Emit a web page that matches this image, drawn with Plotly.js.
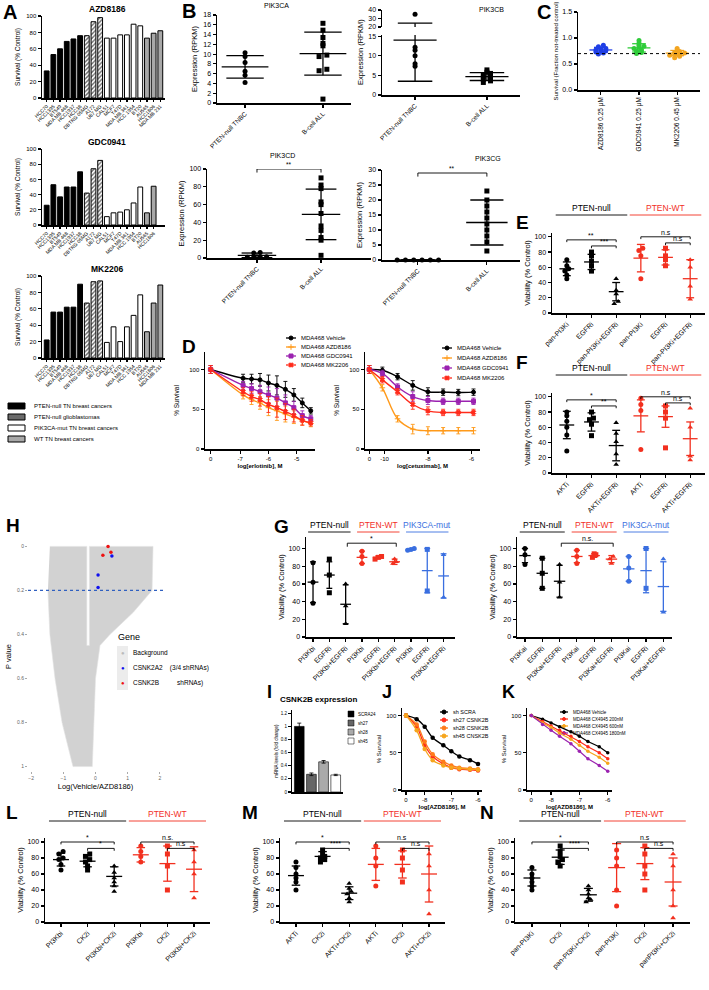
<!DOCTYPE html>
<html><head><meta charset="utf-8">
<script src="https://cdn.plot.ly/plotly-3.0.1.min.js"></script>
<style>body{margin:0;background:#fff}#c{width:709px;height:990px}</style></head>
<body><div id="c"></div>
<script>
// ---------------- DATA ----------------
const A_cells = ["HCC70","HCC1395","BT549","MDA MB 468","HCC1937","HCC38","DBTRG 05MG","A172","U87 MG","CAL51","MCF7","T47D","MDA MB 361","HCC 1954","BT20","AU565","HCC1806","MDA MB 231"];
const A_group = ["null","null","null","null","null","null","gbm","gbm","gbm","mut","mut","mut","mut","mut","mut","wt","wt","wt"];
const A_AZD8186 = [33,53,60,69,72,76,76,93,98,73,73,77,77,90,88,73,79,82];
const A_GDC0941 = [26,53,37,50,50,70,42,74,85,11,16,17,20,29,50,16,51];
const A_MK2206  = [22,56,56,62,62,90,67,93,94,19,38,20,38,52,77,32,67,89];
const A_legend = ["PTEN-null TN breast cancers","PTEN-null glioblastomas","PIK3CA-mut TN breast cancers","WT TN breast cancers"];
const B_cats = ["PTEN-null TNBC","B-cell ALL"];
const PIK3CA_null = [10.3,9.5,8.3,6.5,5.7,4.2];
const PIK3CA_ball = [16.3,14.9,13.4,12.2,11.7,9.8,9.5,6.9,6.6,0.8];
const PIK3CA_mean = [7.4,10.1], PIK3CA_sd = [2.3,4.4];
const PIK3CB_null = [35,12.2,11.4,10,8,7.3];
const PIK3CB_ball = [6.4,5.8,5.5,5.2,4.9,4.6,4.3,4.0,3.6,3.2];
const PIK3CB_mean = [14,4.7], PIK3CB_sd = [10.5,1.0];
const PIK3CD_null = [5.6,1.5,1,6.2,1,0.8];
const PIK3CD_ball = [90,82,78,63,60,50,36,31,23,20,3];
const PIK3CD_mean = [3,49], PIK3CD_sd = [2.6,28.4];
const PIK3CG_null = [0,0,0,0,0,0];
const PIK3CG_ball = [23,20,18,16,14,12,10,8,6,3];
const PIK3CG_mean = [0,12.5], PIK3CG_sd = [0,7.5];
const C_cats = ["AZD8186 0.25 μM","GDC0941 0.25 μM","MK2206 0.45 μM"];
const C_AZD = [0.86,0.83,0.80,0.79,0.77,0.76,0.75,0.73,0.71,0.69];
const C_GDC = [0.95,0.90,0.86,0.84,0.82,0.80,0.77,0.75,0.72,0.70];
const C_MK  = [0.80,0.76,0.74,0.72,0.71,0.70,0.69,0.67,0.65,0.62];
const C_mean = [0.77,0.81,0.71], C_sd = [0.05,0.08,0.05];
const C_threshold = 0.7;
const D1_conc = [-8.05,-6.9,-6.6,-6.3,-6.0,-5.7,-5.4,-5.1,-4.8,-4.5];
const D1_tickvals = [-8.05,-7,-6,-5], D1_ticktext = ["0","-7","-6","-5"];
const D_names = ["MDA468 Vehicle","MDA468 AZD8186","MDA468 GDC0941","MDA468 MK2206"];
const D1_vehicle = [100,89,88,87,83,80,75,68,58,48];
const D1_azd     = [100,68,62,58,52,48,44,40,36,32];
const D1_gdc     = [100,80,76,72,68,64,58,52,42,38];
const D1_mk      = [100,72,66,62,56,52,47,42,36,33];
const D1_err     = [5,5,6,8,10,12,10,8,6,4];
const D2_conc = [-10.7,-10.1,-9.4,-8.7,-8.0,-7.3,-6.6,-5.9];
const D2_tickvals = [-10.7,-10,-8,-6], D2_ticktext = ["0","-10","-8","-6"];
const D2_vehicle = [100,99,91,80,72,71.5,71,71.5];
const D2_azd     = [100,77,38,25,23,23,23,23];
const D2_gdc     = [100,95,78,66,61,60,60,60];
const D2_mk      = [100,87,72,56,48,46,46,46];
const D2_err     = [5,4,4,6,5,4,4,4];
const E_cats = ["pan-PI3Ki","EGFRi","pan-PI3Ki+EGFRi","pan-PI3Ki","EGFRi","pan-PI3Ki+EGFRi"];
const E_pts = [[70,62,58,55,50,45],[80,75,68,62,55],[45,30,25,15,12],[85,82,75,45],[85,75,70,62],[70,60,35,18]];
const E_mean = [58,67,28,72,73,45], E_sd = [9,10,12,18,10,25];
const F_cats = ["AKTi","EGFRi","AKTi+EGFRi","AKTi","EGFRi","AKTi+EGFRi"];
const F_pts = [[80,75,68,60,50,29],[80,72,70,64,49],[66,52,41,25,11],[98,90,82,31],[88,80,72,33],[85,60,22,17]];
const F_mean = [63,67,36,75,74,45], F_sd = [18,12,20,21,14,22];
const G1_cats = ["PI3Kbi","EGFRi","PI3Kbi+EGFRi","PI3Kbi","EGFRi","PI3Kbi+EGFRi","PI3Kbi","EGFRi","PI3Kbi+EGFRi"];
const G1_pts = [[84,62,38],[88,70,50],[60,35,15],[97,91,83],[91,90,88],[88,85,83],[100,99,98],[99,52],[93,45]];
const G1_mean = [62,70,37,90,90,85,99,75,69], G1_sd = [23,15,22,7,1.5,3,1,25,25];
const G2_cats = ["PI3Kai","EGFRi","PI3Kai+EGFRi","PI3Kai","EGFRi","PI3Kai+EGFRi","PI3Kai","EGFRi","PI3Kai+EGFRi"];
const G2_pts = [[100,93,82],[89,72,55],[82,62,45],[98,91,83],[94,93,90],[91,88,83],[91,78,63],[100,55],[88,28]];
const G2_mean = [92,72,63,91,92,88,77,75,57], G2_sd = [8,17,18,7,2,4,14,25,28];
const H_cloudX = [-1.42,-0.27,-0.27,-0.19,-0.19,1.79,1.76,1.17,0.45,0.14,0.0,-0.05,-0.1,-0.7,-1.04,-1.26,-1.42,-1.48];
const H_cloudY = [0,0,0.45,0.45,0,0,0.2,0.3,0.4,0.45,0.6,0.8,1.0,1.0,0.8,0.6,0.4,0.2];
const H_a2x = [0.51,0.08,0.08], H_a2y = [0.044,0.13,0.187];
const H_bx = [0.39,0.48,0.23], H_by = [0,0.027,0.04];
const H_cut = 0.2;
const I_cats = ["SCRA24","sh27","sh28","sh45"];
const I_vals = [1.0,0.27,0.46,0.26], I_err = [0.05,0.02,0.02,0.01];
const J_conc = [-8.7,-8.3,-8.0,-7.7,-7.3,-7.0,-6.7,-6.3,-6.0];
const J_names = ["sh SCRA","sh27 CSNK2B","sh28 CSNK2B","sh45 CNSK2B"];
const J_scra = [100,95,85,70,60,52,45,40,35];
const J_sh27 = [100,85,60,45,35,30,28,27,26];
const J_sh28 = [100,88,65,48,38,33,30,29,28];
const J_sh45 = [100,80,55,40,33,30,29,28,27];
const K_conc = [-8.7,-8.3,-8.0,-7.7,-7.3,-7.0,-6.7,-6.3,-6.0];
const K_names = ["MDA468 Vehicle","MDA468 CX4945 200nM","MDA468 CX4945 600nM","MDA468 CX4945 1800nM"];
const K_veh = [100,95,90,85,78,72,65,58,50];
const K_200 = [100,92,86,80,72,65,58,50,42];
const K_600 = [100,90,84,76,68,60,52,44,36];
const K_1800= [100,88,80,72,62,52,42,33,25];
const L_cats = ["PI3Kbi","CK2i","PI3Kbi+CK2i","PI3Kbi","CK2i","PI3Kbi+CK2i"];
const L_pts = [[88,85,80,78,72,65],[85,82,78,75,70,65],[70,62,55,50,45,38],[95,88,82,75],[95,85,70,40],[90,75,60,30]];
const L_mean = [78,76,57,84,73,66], L_sd = [8,7,12,9,22,28];
const M_cats = ["AKTi","CK2i","AKTi+CK2i","AKTi","CK2i","AKTi+CK2i"];
const M_pts = [[75,68,60,55,50,40],[90,85,82,80,78,75],[48,42,38,35,30,25],[95,80,70,45],[90,80,65,50],[85,70,40,10]];
const M_mean = [58,82,36,72,72,60], M_sd = [12,6,8,20,17,35];
const N_cats = ["pan-PI3Ki","CK2i","pan-PI3Ki+CK2i","pan-PI3Ki","CK2i","panPI3Ki+CK2i"];
const N_pts = [[68,60,55,50,45,40],[95,88,82,78,75,70],[45,40,35,30,28,25],[90,80,70,40,20],[95,85,70,60,40],[85,70,40,20,5]];
const N_mean = [55,81,34,68,73,50], N_sd = [10,9,8,30,20,30];

// ---------------- HELPERS ----------------
const W=709,H=990;
const FONT='Liberation Sans, Arial, sans-serif';
const BLACK='#000', RED='#f2301f', BLUE='#3a6fe0';
const traces=[];
const layout={width:W,height:H,margin:{l:0,r:0,t:0,b:0,pad:0},showlegend:false,
  paper_bgcolor:'#fff',plot_bgcolor:'rgba(0,0,0,0)',font:{family:FONT,size:7,color:'#000'},
  annotations:[],shapes:[]};
let nAx=0;
function tf(size,color){return {size,family:FONT,color:color||'#000'};}
function axes(box,xo,yo){
  nAx++; const s=nAx===1?'':String(nAx);
  const base={showline:true,linecolor:'#000',linewidth:1.5,ticks:'outside',ticklen:3,tickwidth:1.2,tickcolor:'#000',
    showgrid:false,zeroline:false,tickfont:tf(7),fixedrange:true};
  layout['xaxis'+s]=Object.assign({},base,{domain:[box[0]/W,box[2]/W],anchor:'y'+s},xo||{});
  layout['yaxis'+s]=Object.assign({},base,{domain:[1-box[3]/H,1-box[1]/H],anchor:'x'+s},yo||{});
  return {x:'x'+s,y:'y'+s,box};
}
function ann(px,py,text,o){
  layout.annotations.push(Object.assign({x:px/W,y:1-py/H,xref:'paper',yref:'paper',text,showarrow:false,
    font:tf(7),xanchor:'center',yanchor:'middle'},o||{}));
}
function letter(px,py,t,s){ann(px,py,'<b>'+t+'</b>',{font:tf(s||18),xanchor:'left'});}
function spreadX(xc,pts,w,tol){
  const idx=pts.map((v,i)=>i).sort((a,b)=>pts[a]-pts[b]);
  const xs=new Array(pts.length).fill(xc);
  let start=0;
  while(start<idx.length){
    let end=start+1;
    while(end<idx.length && pts[idx[end]]-pts[idx[start]]<tol) end++;
    const k=end-start;
    for(let j=0;j<k;j++) xs[idx[start+j]]=xc+(j-(k-1)/2)*w;
    start=end;
  }
  return xs;
}
function dotGroup(a,xc,pts,mean,sd,color,symbol,o){
  o=o||{};
  traces.push({type:'scatter',mode:'markers',x:spreadX(xc,pts,o.spread||0.12,o.tol||4),y:pts,xaxis:a.x,yaxis:a.y,
    marker:{color,symbol,size:o.size||5},cliponaxis:o.clip||false,hoverinfo:'skip'});
  const mw=o.mw||0.3,cw=o.cw||0.15;
  traces.push({type:'scatter',mode:'lines',x:[xc-mw,xc+mw,null,xc,xc,null,xc-cw,xc+cw,null,xc-cw,xc+cw],
    y:[mean,mean,null,mean-sd,mean+sd,null,mean-sd,mean-sd,null,mean+sd,mean+sd],xaxis:a.x,yaxis:a.y,
    line:{color,width:o.lw||1.3},hoverinfo:'skip',cliponaxis:o.clip||false});
}
function bracket(a,x0,x1,y,h,label,color,fs){
  color=color||'#000';
  layout.shapes.push({type:'path',xref:a.x,yref:a.y,path:`M${x0},${y-h} L${x0},${y} L${x1},${y} L${x1},${y-h}`,line:{color,width:0.9}});
  layout.annotations.push({x:(x0+x1)/2,y:y,xref:a.x,yref:a.y,text:label,showarrow:false,yanchor:'bottom',
    font:tf(fs||7,color),yshift:-1});
}
function header(a,x0,x1,py,text,color,size){
  layout.annotations.push({x:(x0+x1)/2,y:1-py/H,xref:a.x,yref:'paper',text,showarrow:false,yanchor:'bottom',
    font:tf(size||8,color),yshift:-1});
  layout.shapes.push({type:'line',xref:a.x,yref:'paper',x0,x1,y0:1-(py+1)/H,y1:1-(py+1)/H,line:{color,width:0.9}});
}
let OV=null;
function overlay(){ if(!OV){OV=axes([0,0,W,H],{range:[0,W],visible:false},{range:[H,0],visible:false});} return OV; }
function lineLegend(px,py,dy,items,len,fs){
  const o=overlay();
  items.forEach((it,i)=>{
    const y=py+i*dy;
    traces.push({type:'scatter',mode:'lines',x:[px,px+len],y:[y,y],xaxis:o.x,yaxis:o.y,line:{color:it.color,width:1.3},hoverinfo:'skip',cliponaxis:false});
    traces.push({type:'scatter',mode:'markers',x:[px+len/2],y:[y],xaxis:o.x,yaxis:o.y,marker:{color:it.color,symbol:it.symbol||'circle',size:it.size||4,line:{color:it.color,width:1}},hoverinfo:'skip',cliponaxis:false});
    ann(px+len+3,y,it.name,{xanchor:'left',font:tf(fs)});
  });
}

// ---------------- PANEL A ----------------
const A_col={null:'#000',gbm:'#6a6a6a',mut:'#fff',wt:'#a8a8a8'};
function barPanel(box,title,vals,cats,grp){
  const a=axes(box,{type:'category',tickmode:'array',tickvals:cats,ticktext:cats,tickangle:-45,tickfont:tf(5),ticklen:2,range:[-0.7,17.7]},
    {range:[0,100],tickvals:[0,20,40,60,80,100],tickfont:tf(6),title:{text:'Survival (% Control)',font:tf(6.5),standoff:5}});
  traces.push({type:'bar',x:cats,y:vals,xaxis:a.x,yaxis:a.y,width:0.72,hoverinfo:'skip',
    marker:{color:grp.map(g=>A_col[g]),line:{color:'#000',width:1},
      pattern:{shape:grp.map(g=>g==='gbm'?'/':''),fgcolor:'#111',bgcolor:'#777',size:3,solidity:0.45}}});
  ann((box[0]+box[2])/2+4,box[1]-7,'<b>'+title+'</b>',{font:tf(8.5)});
}
letter(1,12,'A',20);
barPanel([42,16,165,98],'AZD8186',A_AZD8186,A_cells,A_group);
barPanel([42,149,165,225],'GDC0941',A_GDC0941,A_cells.slice(0,17),A_group.slice(0,17));
barPanel([42,276,165,358],'MK2206',A_MK2206,A_cells,A_group);
const legCols=['#000','#6a6a6a','#fff','#a8a8a8'];
A_legend.forEach((t,i)=>{
  const y=406+i*11;
  layout.shapes.push({type:'rect',xref:'paper',yref:'paper',x0:8/W,x1:25/W,y0:1-(y+3)/H,y1:1-(y-3)/H,
    fillcolor:legCols[i],line:{color:'#000',width:1}});
  ann(32,y,t,{xanchor:'left',font:tf(6)});
});

// ---------------- PANEL B ----------------
letter(180,11,'B',20);
function bPanel(box,title,tpos,xr,nullPts,ballPts,mean,sd,yo,o){
  o=o||{};
  const a=axes(box,{range:xr,tickvals:[0,1],ticktext:B_cats,tickangle:-45,tickfont:tf(6.5)},
    Object.assign({title:{text:'Expression (RPKM)',font:tf(7.5),standoff:4}},yo));
  dotGroup(a,0,nullPts,mean[0],sd[0],'#000','circle',{mw:0.3,cw:0.24,size:5,spread:o.sp||0.1,tol:o.tol||0.5});
  dotGroup(a,1,ballPts,mean[1],sd[1],'#000','square',{mw:0.3,cw:0.24,size:5,spread:o.sp||0.1,tol:o.tol||0.5});
  ann(tpos[0],tpos[1],title,{font:tf(7)});
  return a;
}
bPanel([217,15,351,103],'PIK3CA',[276,5],[-0.36,1.36],PIK3CA_null,PIK3CA_ball,PIK3CA_mean,PIK3CA_sd,{range:[0,18],dtick:2});
(function(){
  const lo=axes([382,35,520,95],{range:[-0.46,1.46],tickvals:[0,1],ticktext:B_cats,tickangle:-45,tickfont:tf(6.5)},
    {range:[0,15.3],tickvals:[0,5,10,15]});
  const hi=axes([382,10,520,27],{range:[-0.46,1.46],visible:false},{range:[20,40],tickvals:[20,30,40]});
  [lo,hi].forEach(a=>{
    dotGroup(a,0,PIK3CB_null,PIK3CB_mean[0],PIK3CB_sd[0],'#000','circle',{mw:0.3,cw:0.24,spread:0.1,tol:0.4,clip:true});
    dotGroup(a,1,PIK3CB_ball,PIK3CB_mean[1],PIK3CB_sd[1],'#000','square',{mw:0.3,cw:0.24,spread:0.1,tol:0.4,clip:true});
  });
  ann(360,52,'Expression (RPKM)',{textangle:-90,font:tf(7.5)});
  ann(491,10,'PIK3CB',{font:tf(7)});
})();
const aCD=bPanel([207,169,371,258],'PIK3CD',[282,155],[-0.78,1.78],PIK3CD_null,PIK3CD_ball,PIK3CD_mean,PIK3CD_sd,{range:[0,100],dtick:20},{tol:3,sp:0.1});
bracket(aCD,0,1,100,4,'**',BLACK,6.5);
const aCG=bPanel([382,170,520,260],'PIK3CG',[488,158],[-0.52,1.48],PIK3CG_null,PIK3CG_ball,PIK3CG_mean,PIK3CG_sd,{range:[0,30],dtick:5},{tol:1,sp:0.12});
bracket(aCG,0,1,29,1.2,'**',BLACK,6.5);

// ---------------- PANEL C ----------------
letter(535,12,'C',20);
(function(){
  const a=axes([578,12,700,90],{range:[-0.6,2.6],tickvals:[0,1,2],ticktext:C_cats,tickangle:-90,tickfont:tf(6.5)},
    {range:[0,1.5],tickvals:[0,0.5,1,1.5],ticktext:['0.0','0.5','1.0','1.5'],title:{text:'Survival (Fraction not-treated control)',font:tf(6),standoff:3}});
  const cols=['#1f3fe6','#2fcc3a','#f3a520'];
  [C_AZD,C_GDC,C_MK].forEach((p,i)=>dotGroup(a,i,p,C_mean[i],C_sd[i],cols[i],'circle',{size:5,spread:0.13,tol:0.04,mw:0.3,cw:0.18}));
  layout.shapes.push({type:'line',xref:a.x,yref:a.y,x0:-0.6,x1:2.6,y0:C_threshold,y1:C_threshold,line:{color:'#000',width:1,dash:'dot'}});
})();

// ---------------- PANEL D ----------------
letter(180,346,'D',19);
const D_cols=['#000','#ff9a1a','#9b22b0','#ff2a1a'], D_sym=['circle','cross-thin','square','x'];
function dPanel(box,conc,series,err,tv,tt,title,xr){
  const a=axes(box,{range:xr,tickvals:tv,ticktext:tt,tickfont:tf(6),title:{text:'<b>'+title+'</b>',font:tf(6),standoff:3}},
    {range:[0,122],tickvals:[0,50,100],tickfont:tf(6),title:{text:'% Survival',font:tf(6.5),standoff:9}});
  series.forEach((s,i)=>{
    traces.push({type:'scatter',mode:'lines+markers',x:conc,y:s,xaxis:a.x,yaxis:a.y,
      line:{color:D_cols[i],width:1.4,shape:'spline'},
      marker:{color:D_cols[i],symbol:D_sym[i],size:4,line:{color:D_cols[i],width:1}},
      error_y:{type:'data',array:err,color:D_cols[i],thickness:0.9,width:2},hoverinfo:'skip',cliponaxis:false});
  });
  return a;
}
dPanel([205,352,315,449],D1_conc,[D1_vehicle,D1_azd,D1_gdc,D1_mk],D1_err,D1_tickvals,D1_ticktext,'log[erlotinib], M',[-8.25,-4.35]);
dPanel([365,352,480,449],D2_conc,[D2_vehicle,D2_azd,D2_gdc,D2_mk],D2_err,D2_tickvals,D2_ticktext,'log[cetuximab], M',[-10.9,-5.6]);
const D_items=D_names.map((n,i)=>({name:n,color:D_cols[i],symbol:D_sym[i]}));
lineLegend(286,338,9,D_items,10,6);
lineLegend(442,348,10,D_items,10,6);

// ---------------- PANELS E, F, L, M, N ----------------
function nwPanel(box,cats,pts,mean,sd,brackets,hdrY){
  const syms=['circle','square','triangle-up'];
  const a=axes(box,{range:[-0.6,5.6],tickvals:[0,1,2,3,4,5],ticktext:cats,tickangle:-45,tickfont:tf(7)},
    {range:[0,105],tickvals:[0,20,40,60,80,100],title:{text:'Viability (% Control)',font:tf(7.5),standoff:3}});
  pts.forEach((p,i)=>dotGroup(a,i,p,mean[i],sd[i],i<3?BLACK:RED,syms[i%3],{size:5,spread:0.16,tol:5,mw:0.3,cw:0.16}));
  header(a,-0.45,2.45,hdrY,'PTEN-null',BLACK,8.5);
  header(a,2.55,5.45,hdrY,'PTEN-WT',RED,8.5);
  brackets.forEach(b=>bracket(a,b[0],b[1],b[2],3,b[3],b[4]));
  return a;
}
letter(514,222,'E',19);
nwPanel([552,233,705,313],E_cats,E_pts,E_mean,E_sd,
  [[0,2,96,'**',BLACK],[1,2,88,'***',BLACK],[3,5,100,'n.s',BLACK],[4,5,92,'n.s',BLACK]],214);
letter(514,362,'F',19);
nwPanel([552,393,705,473],F_cats,F_pts,F_mean,F_sd,
  [[0,2,96,'*',BLACK],[1,2,88,'**',BLACK],[3,5,100,'n.s',BLACK],[4,5,92,'n.s',BLACK]],374);
letter(4,812,'L',19);
nwPanel([45,838,210,922],L_cats,L_pts,L_mean,L_sd,
  [[0,2,100,'*',BLACK],[1,2,92,'*',BLACK],[3,5,100,'n.s.',BLACK],[4,5,92,'n.s',BLACK]],820);
letter(240,812,'M',19);
nwPanel([280,838,445,922],M_cats,M_pts,M_mean,M_sd,
  [[0,2,100,'*',BLACK],[1,2,92,'****',BLACK],[3,5,100,'n.s',BLACK],[4,5,92,'n.s',BLACK]],820);
letter(478,812,'N',19);
nwPanel([515,838,690,922],N_cats,N_pts,N_mean,N_sd,
  [[0,2,100,'*',BLACK],[1,2,92,'****',BLACK],[3,5,100,'n.s',BLACK],[4,5,92,'n.s',BLACK]],820);

// ---------------- PANEL G ----------------
function gPanel(box,xr,cats,pts,mean,sd,lab){
  const a=axes(box,{range:xr,tickvals:[0,1,2,3,4,5,6,7,8],ticktext:cats,tickangle:-45,tickfont:tf(7)},
    {range:[0,113],tickvals:[0,20,40,60,80,100],title:{text:'Viability (% Control)',font:tf(7.5),standoff:3}});
  const cols=[BLACK,BLACK,BLACK,RED,RED,RED,BLUE,BLUE,BLUE];
  const syms=['circle','square','triangle-up'];
  pts.forEach((p,i)=>dotGroup(a,i,p,mean[i],sd[i],cols[i],syms[i%3],{size:5,spread:0.2,tol:4,mw:0.33,cw:0.18}));
  header(a,-0.3,2.3,531,'PTEN-null',BLACK,8.5);
  header(a,2.7,5.3,531,'PTEN-WT',RED,8.5);
  header(a,5.7,8.3,531,'PIK3CA-mut',BLUE,8.5);
  bracket(a,2.1,5.1,106,4,lab);
  return a;
}
letter(272,526,'G',19);
gPanel([306,537,455,637],[-0.43,8.7],G1_cats,G1_pts,G1_mean,G1_sd,'*');
gPanel([517,537,672,637],[-0.46,8.5],G2_cats,G2_pts,G2_mean,G2_sd,'n.s.');

// ---------------- PANEL H ----------------
letter(4,525,'H',19);
(function(){
  const a=axes([28,542,163,771],{range:[-2.1,2.1],tickvals:[-2,-1,0,1,2],showline:false,ticks:'outside',ticklen:2,tickcolor:'#aaa',
      tickfont:tf(5,'#666'),title:{text:'Log(Vehicle/AZD8186)',font:tf(7.5),standoff:3}},
    {range:[1.02,-0.02],tickvals:[0,0.2,0.4,0.6,0.8,1],ticktext:['0','0.2','0.4','0.6','0.8','1'],showline:false,ticklen:2,tickcolor:'#aaa',
      tickfont:tf(5,'#666'),title:{text:'P value',font:tf(7.5),standoff:4}});
  traces.push({type:'scatter',mode:'lines',x:H_cloudX,y:H_cloudY,fill:'toself',fillcolor:'#d2d2d2',line:{width:0.6,color:'#e2e2e2'},xaxis:a.x,yaxis:a.y,hoverinfo:'skip'});
  layout.shapes.push({type:'line',xref:a.x,yref:a.y,x0:-2.1,x1:2.1,y0:H_cut,y1:H_cut,line:{color:'#3060c0',width:1.2,dash:'dot'}});
  traces.push({type:'scatter',mode:'markers',x:H_a2x,y:H_a2y,marker:{color:'#1010ee',size:3.5},xaxis:a.x,yaxis:a.y,hoverinfo:'skip'});
  traces.push({type:'scatter',mode:'markers',x:H_bx,y:H_by,marker:{color:'#ee1010',size:3.5},xaxis:a.x,yaxis:a.y,hoverinfo:'skip'});
  layout.shapes.push({type:'rect',xref:'paper',yref:'paper',x0:117/W,x1:128/W,y0:1-690/H,y1:1-646/H,fillcolor:'#ececec',line:{width:0}});
  ann(116,637,'Gene',{xanchor:'left',font:tf(9)});
  [['#bbb','Background'],['#1010ee','CSNK2A2    (3/4 shRNAs)'],['#ee1010','CSNK2B          shRNAs)']].forEach((r,i)=>{
    const y=653+i*15;
    ann(122.5,y,'●',{font:tf(6,r[0])});
    ann(131,y,r[1],{xanchor:'left',font:tf(6.5)});
  });
})();

// ---------------- PANEL I ----------------
letter(265,692,'I',18);
(function(){
  const a=axes([292,710,343,792],{type:'category',showticklabels:false,ticks:'',range:[-0.6,3.6]},
    {range:[0,1.25],tickvals:[0,0.2,0.4,0.6,0.8,1,1.2],ticktext:['0','0.2','0.4','0.6','0.8','1','1.2'],tickfont:tf(4.5),
     linewidth:1,title:{text:'mRNA levels (fold change)',font:tf(4.5),standoff:2}});
  const cols=['#000','#666','#aaa','#fff'];
  traces.push({type:'bar',x:I_cats,y:I_vals,error_y:{type:'data',array:I_err,color:'#000',thickness:0.8,width:2},
    xaxis:a.x,yaxis:a.y,width:0.8,marker:{color:cols,line:{color:'#000',width:0.6}},hoverinfo:'skip'});
  ann(318,699,'<b>CSNK2B expression</b>',{font:tf(8)});
  I_cats.forEach((c,i)=>{
    const y=714+i*9;
    layout.shapes.push({type:'rect',xref:'paper',yref:'paper',x0:348/W,x1:354/W,y0:1-(y+3)/H,y1:1-(y-3)/H,fillcolor:cols[i],line:{color:'#000',width:0.5}});
    ann(356,y,c,{xanchor:'left',font:tf(4.5)});
  });
})();

// ---------------- PANEL J ----------------
letter(380,692,'J',18);
(function(){
  const a=axes([402,708,482,790],{range:[-8.85,-5.85],tickvals:[-8.7,-8,-7,-6],ticktext:['0','-8','-7','-6'],tickfont:tf(6),
    title:{text:'<b>log[AZD8186], M</b>',font:tf(6),standoff:3}},
    {range:[0,110],tickvals:[0,50,100],tickfont:tf(6),title:{text:'% Survival',font:tf(6),standoff:4}});
  const cols=['#000','#ff2a1a','#ff7a1a','#f6a51c'];
  [J_scra,J_sh27,J_sh28,J_sh45].forEach((s,i)=>traces.push({type:'scatter',mode:'lines+markers',x:J_conc,y:s,xaxis:a.x,yaxis:a.y,
    line:{color:cols[i],width:1.3,shape:'spline'},marker:{color:cols[i],size:4.5},hoverinfo:'skip',cliponaxis:false}));
  lineLegend(440,712,8,J_names.map((n,i)=>({name:n,color:cols[i]})),8,5.5);
})();

// ---------------- PANEL K ----------------
letter(500,692,'K',18);
(function(){
  const a=axes([527,708,612,790],{range:[-8.85,-5.85],tickvals:[-8.7,-8,-7,-6],ticktext:['0','-8','-7','-6'],tickfont:tf(6),
    title:{text:'<b>log[AZD8186], M</b>',font:tf(6),standoff:3}},
    {range:[0,110],tickvals:[0,50,100],tickfont:tf(6),title:{text:'% Survival',font:tf(6),standoff:4}});
  const cols=['#000','#ff2a1a','#f6a51c','#9b22b0'];
  [K_veh,K_200,K_600,K_1800].forEach((s,i)=>traces.push({type:'scatter',mode:'lines+markers',x:K_conc,y:s,xaxis:a.x,yaxis:a.y,
    line:{color:cols[i],width:1.2},marker:{color:cols[i],size:3.5},hoverinfo:'skip',cliponaxis:false}));
  lineLegend(560,712,7,K_names.map((n,i)=>({name:n,color:cols[i],size:3})),8,4.5);
})();

Plotly.newPlot('c',traces,layout,{staticPlot:true,displayModeBar:false});
</script></body></html>
